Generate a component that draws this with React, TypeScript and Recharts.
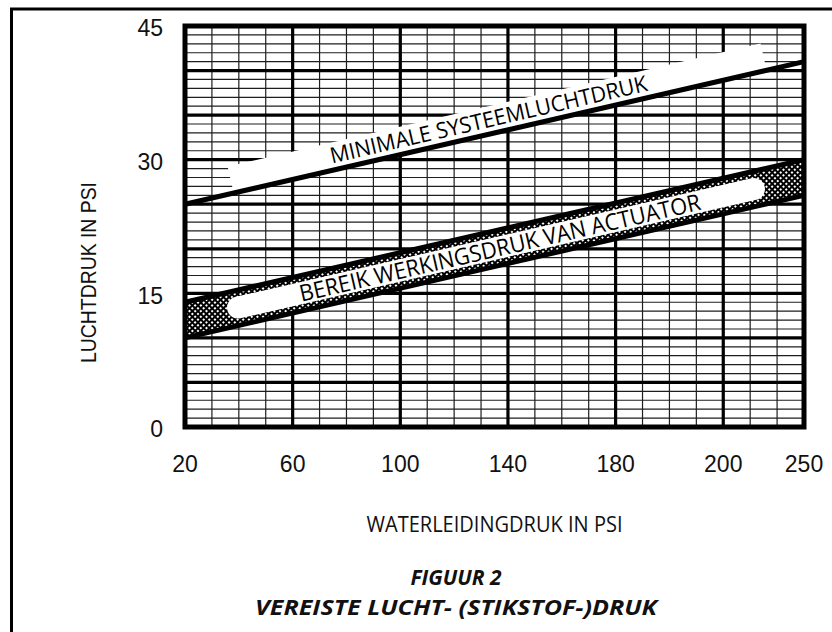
import React from 'react';
import {
  ComposedChart,
  Line,
  Area,
  XAxis,
  YAxis,
  CartesianGrid,
  ReferenceArea,
  ReferenceDot,
} from 'recharts';

// ---- data ----
const waterPressure = [20, 250];
const minSystemAirPressure = [25, 41];
const actuatorRangeLow = [10, 26];
const actuatorRangeHigh = [14, 30];

// white label strips (annotation backgrounds)
const bandLabelStripX = [39.7, 231.4];
const bandLabelStripY = [13.4, 26.7];
const minLabelStripX = [37, 235];
const minLabelStripY = [27.7, 41.5];

// tick values and labels (the original labels the 220 line as "200")
const xTickValues = [20, 60, 100, 140, 180, 220, 250];
const xTickLabels = ['20', '60', '100', '140', '180', '200', '250'];
const yTickValues = [0, 15, 30, 45];
const yTickLabels = ['0', '15', '30', '45'];

const xMinorGrid = [20, 30, 40, 50, 60, 70, 80, 90, 100, 110, 120, 130, 140, 150, 160, 170, 180, 190, 200, 210, 220, 230, 240, 250];
const yMinorGrid = [0, 1, 2, 3, 4, 5, 6, 7, 8, 9, 10, 11, 12, 13, 14, 15, 16, 17, 18, 19, 20, 21, 22, 23, 24, 25, 26, 27, 28, 29, 30, 31, 32, 33, 34, 35, 36, 37, 38, 39, 40, 41, 42, 43, 44, 45];
const xMajorGrid = [20, 60, 100, 140, 180, 220, 250];
const yMajorGrid = [0, 5, 10, 15, 20, 25, 30, 35, 40, 45];

// label anchors (points on the lines where the texts sit)
const minLabelAnchor = { x: 134, y: 32.9 };
const bandLabelAnchor = { x: 137, y: 20.1 };

const minLabelText = 'MINIMALE SYSTEEMLUCHTDRUK';
const bandLabelText = 'BEREIK WERKINGSDRUK VAN ACTUATOR';

// ---- layout ----
const W = 832;
const H = 632;
const PLOT_LEFT = 185;
const PLOT_RIGHT = 804;
const PLOT_TOP = 26;
const PLOT_BOTTOM = 427;
const PLOT_W = PLOT_RIGHT - PLOT_LEFT;
const PLOT_H = PLOT_BOTTOM - PLOT_TOP;
const X_DOMAIN: [number, number] = [20, 250];
const Y_DOMAIN: [number, number] = [0, 45];
const slopePx =
  ((minSystemAirPressure[1] - minSystemAirPressure[0]) / (Y_DOMAIN[1] - Y_DOMAIN[0])) * PLOT_H /
  (((waterPressure[1] - waterPressure[0]) / (X_DOMAIN[1] - X_DOMAIN[0])) * PLOT_W);
const ANGLE = (Math.atan(slopePx) * 180) / Math.PI;

const TICK_FONT = '"Liberation Sans", Arial, Helvetica, sans-serif';
const TEXT_FONT = '"Open Sans", "Noto Sans", sans-serif';

const XTick = (props: any) => {
  const i = xTickValues.indexOf(props.payload.value);
  return (
    <text x={props.x} y={props.y} dy={16.5} textAnchor="middle" fontFamily={TICK_FONT} fontSize={23} fill="#111">
      {i >= 0 ? xTickLabels[i] : props.payload.value}
    </text>
  );
};

const YTick = (props: any) => {
  const i = yTickValues.indexOf(props.payload.value);
  return (
    <text x={props.x} y={props.y} dy={10.3} textAnchor="end" fontFamily={TICK_FONT} fontSize={23} fill="#111">
      {i >= 0 ? yTickLabels[i] : props.payload.value}
    </text>
  );
};

const makeRotatedLabel = (text: string, dy: number, length: number, size: number) => (props: any) => {
  const vb = props.viewBox || {};
  const cx = vb.x + (vb.width || 0) / 2;
  const cy = vb.y + (vb.height || 0) / 2;
  return (
    <text
      transform={`translate(${cx},${cy}) rotate(${-ANGLE})`}
      x={0}
      y={dy}
      textAnchor="middle"
      fontFamily={TEXT_FONT}
      fontSize={size}
      fill="#000"
      textLength={length}
      lengthAdjust="spacingAndGlyphs"
    >
      {text}
    </text>
  );
};

export default function App() {
  const lineData = waterPressure.map((x, i) => ({
    x,
    min: minSystemAirPressure[i],
    low: actuatorRangeLow[i],
    high: actuatorRangeHigh[i],
    band: [actuatorRangeLow[i], actuatorRangeHigh[i]],
  }));
  const bandStrip = bandLabelStripX.map((x, i) => ({ x, y: bandLabelStripY[i] }));
  const minStrip = minLabelStripX.map((x, i) => ({ x, y: minLabelStripY[i] }));

  return (
    <div style={{ position: 'absolute', left: 0, top: 0, width: W, height: H, background: '#fff' }}>
      <ComposedChart
        width={W}
        height={H}
        data={lineData}
        margin={{ top: PLOT_TOP, right: W - PLOT_RIGHT, bottom: H - PLOT_BOTTOM - 30, left: PLOT_LEFT - 60 }}
      >
        <defs>
          <pattern id="hatch" width="4" height="4" patternUnits="userSpaceOnUse" patternTransform="rotate(45)">
            <rect x="0" y="0" width="4" height="4" fill="#000" />
            <rect x="1" y="1" width="2" height="2" fill="#fff" />
          </pattern>
        </defs>
        <CartesianGrid horizontalValues={yMinorGrid} verticalValues={xMinorGrid} stroke="#1e1e1e" strokeWidth={1.2} />
        <CartesianGrid horizontalValues={yMajorGrid} verticalValues={xMajorGrid} stroke="#000" strokeWidth={3.2} />
        <XAxis
          dataKey="x"
          type="number"
          domain={X_DOMAIN}
          ticks={xTickValues}
          interval={0}
          axisLine={false}
          tickLine={false}
          tickSize={0}
          tickMargin={28}
          height={30}
          tick={XTick}
        />
        <YAxis
          type="number"
          domain={Y_DOMAIN}
          ticks={yTickValues}
          interval={0}
          axisLine={false}
          tickLine={false}
          tickSize={0}
          tickMargin={22}
          width={60}
          tick={YTick}
        />
        <Area
          type="linear"
          dataKey="band"
          stroke="none"
          fill="url(#hatch)"
          fillOpacity={1}
          isAnimationActive={false}
          dot={false}
          activeDot={false}
        />
        <Line
          data={bandStrip}
          type="linear"
          dataKey="y"
          stroke="#fff"
          strokeWidth={22}
          strokeLinecap="round"
          dot={false}
          activeDot={false}
          isAnimationActive={false}
        />
        <Line
          data={minStrip}
          type="linear"
          dataKey="y"
          stroke="#fff"
          strokeWidth={28}
          dot={false}
          activeDot={false}
          isAnimationActive={false}
        />
        <Line type="linear" dataKey="low" stroke="#000" strokeWidth={5} dot={false} activeDot={false} isAnimationActive={false} />
        <Line type="linear" dataKey="high" stroke="#000" strokeWidth={5} dot={false} activeDot={false} isAnimationActive={false} />
        <Line type="linear" dataKey="min" stroke="#000" strokeWidth={5} dot={false} activeDot={false} isAnimationActive={false} />
        <ReferenceArea
          x1={X_DOMAIN[0]}
          x2={X_DOMAIN[1]}
          y1={Y_DOMAIN[0]}
          y2={Y_DOMAIN[1]}
          fill="none"
          fillOpacity={0}
          stroke="#000"
          strokeWidth={5}
          ifOverflow="visible"
        />
        <ReferenceDot
          x={minLabelAnchor.x}
          y={minLabelAnchor.y}
          r={0}
          fill="none"
          stroke="none"
          label={makeRotatedLabel(minLabelText, -7, 325, 22)}
        />
        <ReferenceDot
          x={bandLabelAnchor.x}
          y={bandLabelAnchor.y}
          r={0}
          fill="none"
          stroke="none"
          label={makeRotatedLabel(bandLabelText, 8, 411, 23)}
        />
      </ComposedChart>
      <svg
        width={W}
        height={H}
        style={{ position: 'absolute', left: 0, top: 0, pointerEvents: 'none' }}
      >
        <line x1={10} y1={9} x2={W} y2={9} stroke="#000" strokeWidth={3} />
        <line x1={11.5} y1={9} x2={11.5} y2={H} stroke="#000" strokeWidth={3} />
        <text
          transform="translate(96,272.5) rotate(-90)"
          textAnchor="middle"
          fontFamily={TICK_FONT}
          fontSize={22}
          fill="#111"
          textLength={181}
          lengthAdjust="spacingAndGlyphs"
        >
          LUCHTDRUK IN PSI
        </text>
        <text
          x={494.5}
          y={532}
          textAnchor="middle"
          fontFamily={TEXT_FONT}
          fontSize={21}
          fill="#111"
          textLength={256}
          lengthAdjust="spacingAndGlyphs"
        >
          WATERLEIDINGDRUK IN PSI
        </text>
        <text
          x={456}
          y={585}
          textAnchor="middle"
          fontFamily={TEXT_FONT}
          fontSize={21}
          fontWeight="bold"
          fontStyle="italic"
          fill="#111"
        >
          FIGUUR 2
        </text>
        <text
          x={456}
          y={615}
          textAnchor="middle"
          fontFamily={TEXT_FONT}
          fontSize={21}
          fontWeight="bold"
          fontStyle="italic"
          fill="#111"
          textLength={402}
          lengthAdjust="spacingAndGlyphs"
        >
          VEREISTE LUCHT- (STIKSTOF-)DRUK
        </text>
      </svg>
    </div>
  );
}
